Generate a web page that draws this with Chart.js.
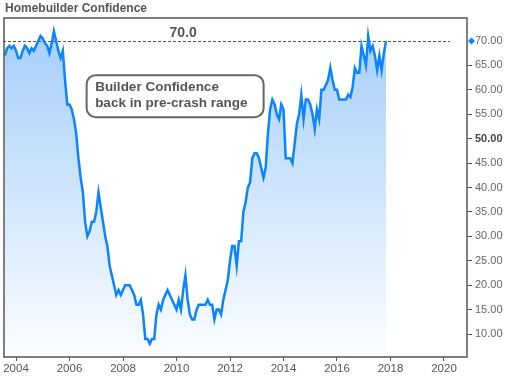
<!DOCTYPE html>
<html>
<head>
<meta charset="utf-8">
<title>Homebuilder Confidence</title>
<script src="https://cdn.jsdelivr.net/npm/chart.js@4.4.1/dist/chart.umd.min.js"></script>
<style>
    html, body { margin: 0; padding: 0; background: #fff; }
    canvas { display: block; }
</style>
</head>
<body>
<canvas id="hmiChart" width="507" height="376"></canvas>
<script>
const FONT = '"Liberation Sans", Arial, sans-serif';

const chartTitle = 'Homebuilder Confidence';
const noteLines = ['Builder Confidence', 'back in pre-crash range'];

// monthly index readings, Aug 2003 .. Nov 2017
const firstYear = 2003;
const firstMonth = 7; // August, 0-based
const v2003 = [67, 68.5, 69, 68.5, 69];
const v2004 = [68, 66.5, 66.5, 68, 69, 68.5, 67.5, 68.5, 68, 69, 70, 71];
const v2005 = [70.5, 69.5, 69, 67.5, 69.5, 72, 70, 68, 66.5, 68, 62, 57];
const v2006 = [57, 56, 54, 51, 46, 42, 39, 33, 30, 31, 33, 33];
const v2007 = [35, 39, 36, 33, 30, 28, 24, 22, 20, 18, 19, 18];
const v2008 = [19, 20, 20, 20, 19, 18, 16, 16, 17, 14, 9, 9];
const v2009 = [8, 9, 9, 14, 16, 15, 17, 18, 19, 18, 17, 16];
const v2010 = [15, 17, 15, 19, 22, 17, 14, 13, 13, 15, 16, 16];
const v2011 = [16, 16, 17, 16, 16, 13, 15, 15, 14, 17, 19, 21];
const v2012 = [25, 28, 28, 24, 29, 29, 35, 37, 40, 41, 46, 47];
const v2013 = [47, 46, 44, 42, 44, 51, 56, 58, 57, 55, 54, 57];
const v2014 = [56, 46, 46, 46, 45, 49, 53, 55, 59, 54, 58, 58];
const v2015 = [57, 55, 52, 56, 54, 60, 60, 61, 62, 64.5, 62, 60];
const v2016 = [60, 58, 58, 58, 58, 59, 58.5, 60.5, 64.5, 63.5, 63.5, 69];
const v2017 = [67, 65, 71, 68, 69, 67, 64, 67, 64, 67.5, 70];
const yearValues = [v2003, v2004, v2005, v2006, v2007, v2008, v2009, v2010,
    v2011, v2012, v2013, v2014, v2015, v2016, v2017];

const xTicks = [2004, 2006, 2008, 2010, 2012, 2014, 2016, 2018, 2020];
const yTicks = [10, 15, 20, 25, 30, 35, 40, 45, 50, 55, 60, 65, 70];
const latestValue = 70;
const boldTick = 50;

function buildPoints() {
    const points = [];
    yearValues.forEach((vals, i) => {
        const start = i === 0 ? firstMonth : 0;
        vals.forEach((v, j) => {
            points.push({ x: firstYear + i + (start + j) / 12, y: v });
        });
    });
    return points;
}

function areaGradient(context) {
    const { ctx, chartArea } = context.chart;
    if (!chartArea) return 'rgba(0,0,0,0)';
    const g = ctx.createLinearGradient(0, chartArea.top, 0, chartArea.bottom);
    g.addColorStop(0, '#a3cdf9');
    g.addColorStop(1, '#fbfdff');
    return g;
}

function tickIs(c, value) {
    return !!(c && c.tick && c.tick.value === value);
}

const overlayPlugin = {
    id: 'overlay',
    beforeDatasetsDraw(chart) {
        // dashed line at the latest reading, over the fill but under the line
        const { ctx, chartArea: a, scales: { x, y } } = chart;
        const yRef = Math.round(y.getPixelForValue(latestValue)) + 0.5;
        ctx.save();
        ctx.strokeStyle = '#555';
        ctx.lineWidth = 1;
        ctx.setLineDash([3, 2]);
        ctx.beginPath();
        ctx.moveTo(a.left - 1, yRef);
        ctx.lineTo(x.getPixelForValue(2020.22), yRef);
        ctx.stroke();
        ctx.restore();
    },
    afterDraw(chart) {
        const { ctx, chartArea: a, scales: { x, y } } = chart;
        const yRef = y.getPixelForValue(latestValue);
        ctx.save();

        ctx.font = 'bold 14px ' + FONT;
        ctx.fillStyle = '#555';
        ctx.textAlign = 'center';
        ctx.textBaseline = 'alphabetic';
        ctx.fillText(latestValue.toFixed(1), x.getPixelForValue(2010.25), yRef - 4);

        // diamond marker on the value axis
        const dx = a.right + 4.5;
        ctx.fillStyle = '#0a84ff';
        ctx.beginPath();
        ctx.moveTo(dx, yRef - 3.5);
        ctx.lineTo(dx + 3.5, yRef);
        ctx.lineTo(dx, yRef + 3.5);
        ctx.lineTo(dx - 3.5, yRef);
        ctx.closePath();
        ctx.fill();

        // plot frame
        ctx.strokeStyle = '#555';
        ctx.lineWidth = 1.5;
        ctx.strokeRect(a.left, a.top, a.right - a.left, a.bottom - a.top);

        // note box
        const bx = x.getPixelForValue(2006.64);
        const by = y.getPixelForValue(63.0);
        ctx.beginPath();
        ctx.roundRect(bx, by, 177, 42, 9);
        ctx.fillStyle = '#fff';
        ctx.fill();
        ctx.lineWidth = 2;
        ctx.strokeStyle = '#666';
        ctx.stroke();
        ctx.font = 'bold 13.5px ' + FONT;
        ctx.fillStyle = '#555';
        ctx.textAlign = 'left';
        ctx.textBaseline = 'middle';
        ctx.fillText(noteLines[0], bx + 8.5, by + 12.5);
        ctx.fillText(noteLines[1], bx + 8.5, by + 28.5);

        // title
        ctx.font = 'bold 12px ' + FONT;
        ctx.fillStyle = '#555';
        ctx.fillText(chartTitle, 5, 9);
        ctx.restore();
    }
};

function initChart() {
    const canvas = document.getElementById('hmiChart');
    new Chart(canvas, {
        type: 'line',
        data: {
            datasets: [{
                label: chartTitle,
                data: buildPoints(),
                borderColor: '#0a84ff',
                borderWidth: 2.5,
                backgroundColor: areaGradient,
                fill: 'start',
                pointRadius: 0,
                tension: 0
            }]
        },
        options: {
            responsive: false,
            animation: false,
            events: [],
            layout: { padding: { left: 4, top: 18, right: 0, bottom: 0 } },
            plugins: {
                legend: { display: false },
                tooltip: { enabled: false },
                filler: { drawTime: 'beforeDatasetsDraw' }
            },
            scales: {
                x: {
                    type: 'linear',
                    min: 2003.551,
                    max: 2020.86,
                    afterBuildTicks: s => { s.ticks = xTicks.map(v => ({ value: v })); },
                    afterFit: s => { s.height = 19; },
                    grid: { drawOnChartArea: false, tickLength: 4, tickColor: '#555' },
                    border: { display: false },
                    ticks: {
                        padding: 1,
                        color: '#555',
                        font: { family: FONT, size: 11.5 },
                        maxRotation: 0,
                        autoSkip: false,
                        callback: v => String(v)
                    }
                },
                y: {
                    position: 'right',
                    min: 5.3,
                    max: 74.7,
                    afterBuildTicks: s => { s.ticks = yTicks.map(v => ({ value: v })); },
                    afterFit: s => { s.width = 40; },
                    grid: {
                        drawOnChartArea: false,
                        tickLength: 5,
                        tickColor: c => tickIs(c, latestValue) ? 'rgba(0,0,0,0)' : '#555'
                    },
                    border: { display: false },
                    ticks: {
                        padding: 3,
                        color: c => tickIs(c, boldTick) ? '#444' : '#666',
                        font: c => ({ family: FONT, size: 11, weight: tickIs(c, boldTick) ? 'bold' : 'normal' }),
                        callback: v => Number(v).toFixed(2)
                    }
                }
            }
        },
        plugins: [overlayPlugin]
    });
}

initChart();
</script>
</body>
</html>
